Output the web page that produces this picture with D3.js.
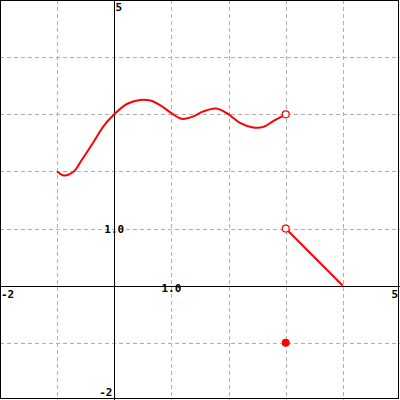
<!DOCTYPE html>
<html>
<head>
<meta charset="utf-8">
<script src="https://cdn.jsdelivr.net/npm/d3@7"></script>
<style>
  body { margin: 0; background: #fff; }
  svg text { font-family: "DejaVu Sans Mono", monospace; font-weight: bold; font-size: 11px; fill: #000; }
</style>
</head>
<body>
<div id="chart"></div>
<script>
// axis range and grid ticks
var xDomain = [-2, 5];
var yDomain = [-2, 5];
var gridTicks = [-1, 0, 1, 2, 3, 4];

// smooth piece
var curveX = [-1, -0.88, -0.71, -0.57, -0.36, -0.19, 0, 0.22, 0.45, 0.63, 0.8, 1.0, 1.18, 1.35, 1.56, 1.78, 1.97, 2.2, 2.43, 2.61, 2.78, 3];
var curveY = [2.0, 1.93, 2.0, 2.2, 2.52, 2.79, 3.0, 3.18, 3.25, 3.24, 3.16, 3.02, 2.92, 2.95, 3.05, 3.10, 3.02, 2.85, 2.77, 2.78, 2.88, 3.0];

// straight piece
var lineX = [3, 4];
var lineY = [1, 0];

// open and filled points
var openPts = [[3, 3], [3, 1]];
var filledPts = [[3, -1]];

var width = 400, height = 400;

var svg = d3.select("#chart")
    .append("svg")
    .attr("width", width)
    .attr("height", height);

var x = d3.scaleLinear().domain(xDomain).range([0, width]);
var y = d3.scaleLinear().domain(yDomain).range([height, 0]);

function px(v) { return Math.round(x(v)) + 0.5; }
function py(v) { return Math.round(y(v)) + 0.5; }

// dashed grid
svg.selectAll(".vgrid")
    .data(gridTicks.filter(function(d) { return d !== 0; }))
    .enter().append("line")
    .attr("x1", function(d) { return px(d); })
    .attr("x2", function(d) { return px(d); })
    .attr("y1", 0).attr("y2", height)
    .attr("stroke", "#b0b0b0")
    .attr("stroke-dasharray", "4,3");

svg.selectAll(".hgrid")
    .data(gridTicks.filter(function(d) { return d !== 0; }))
    .enter().append("line")
    .attr("y1", function(d) { return py(d); })
    .attr("y2", function(d) { return py(d); })
    .attr("x1", 0).attr("x2", width)
    .attr("stroke", "#b0b0b0")
    .attr("stroke-dasharray", "4,3");

// axes
svg.append("line")
    .attr("x1", 0).attr("x2", width)
    .attr("y1", py(0)).attr("y2", py(0))
    .attr("stroke", "#000");
svg.append("line")
    .attr("x1", px(0)).attr("x2", px(0))
    .attr("y1", 0).attr("y2", height)
    .attr("stroke", "#000");

// frame
svg.append("rect")
    .attr("x", 0.5).attr("y", 0.5)
    .attr("width", width - 2).attr("height", height - 2)
    .attr("fill", "none")
    .attr("stroke", "#000");

// labels
svg.append("text").attr("x", px(0) + 1).attr("y", 11).text(yDomain[1]);
svg.append("text").attr("x", px(0) - 2).attr("y", height - 4).attr("text-anchor", "end").text(yDomain[0]);
svg.append("text").attr("x", 1).attr("y", py(0) + 11).text(xDomain[0]);
svg.append("text").attr("x", width - 2).attr("y", py(0) + 11).attr("text-anchor", "end").text(xDomain[1]);
svg.append("text").attr("x", x(1)).attr("y", py(0) + 5).attr("text-anchor", "middle").text("1.0");
svg.append("text").attr("x", x(0)).attr("y", y(1) + 4).attr("text-anchor", "middle").text("1.0");

// curve
var curveData = curveX.map(function(d, i) { return [d, curveY[i]]; });
svg.append("path")
    .datum(curveData)
    .attr("fill", "none")
    .attr("stroke", "#ff0000")
    .attr("stroke-width", 2)
    .attr("d", d3.line()
        .x(function(d) { return x(d[0]); })
        .y(function(d) { return y(d[1]); })
        .curve(d3.curveCatmullRom));

var lineData = lineX.map(function(d, i) { return [d, lineY[i]]; });
svg.append("path")
    .datum(lineData)
    .attr("fill", "none")
    .attr("stroke", "#ff0000")
    .attr("stroke-width", 2)
    .attr("d", d3.line()
        .x(function(d) { return x(d[0]); })
        .y(function(d) { return y(d[1]); }));

svg.selectAll(".open")
    .data(openPts)
    .enter().append("circle")
    .attr("cx", function(d) { return x(d[0]); })
    .attr("cy", function(d) { return y(d[1]); })
    .attr("r", 3.5)
    .attr("fill", "#fff")
    .attr("stroke", "#ff0000")
    .attr("stroke-width", 1.2);

svg.selectAll(".filled")
    .data(filledPts)
    .enter().append("circle")
    .attr("cx", function(d) { return x(d[0]); })
    .attr("cy", function(d) { return y(d[1]); })
    .attr("r", 4)
    .attr("fill", "#ff0000");
</script>
</body>
</html>
